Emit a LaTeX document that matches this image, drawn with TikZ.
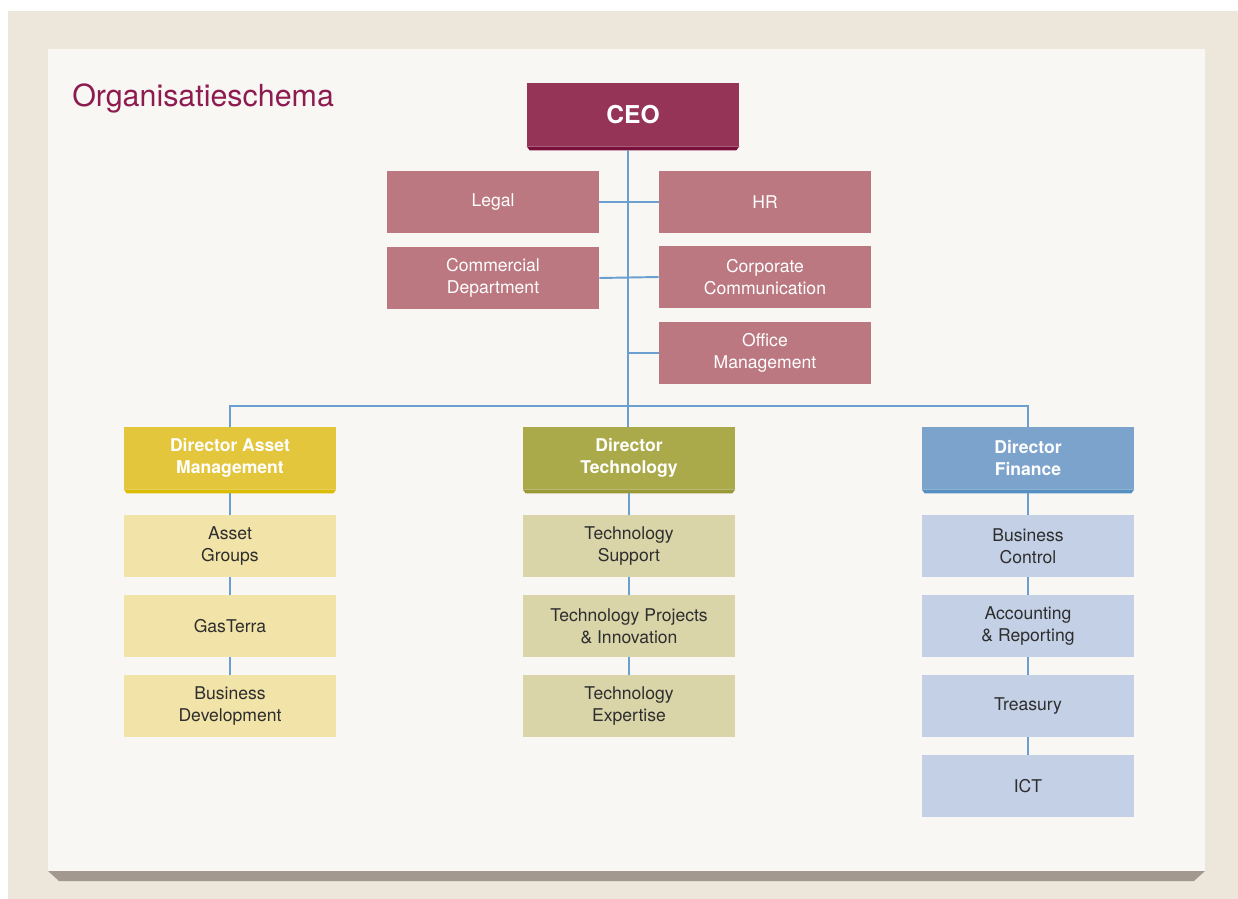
\documentclass[tikz,border=0pt]{standalone}
\usepackage{fontspec}
\setmainfont{TeX Gyre Heros}
\usetikzlibrary{calc}
\definecolor{frame}{HTML}{EDE6DB}
\definecolor{paper}{HTML}{F8F7F3}
\definecolor{papershadow}{HTML}{A39890}
\definecolor{titlered}{HTML}{8E1B4F}
\definecolor{ceofill}{HTML}{963457}
\definecolor{ceoedge}{HTML}{7A0F3B}
\definecolor{stafffill}{HTML}{BC7880}
\definecolor{linkblue}{HTML}{6A9FCF}
\definecolor{amfill}{HTML}{E3C63C}
\definecolor{amedge}{HTML}{DDBC05}
\definecolor{amsub}{HTML}{F2E3A8}
\definecolor{techfill}{HTML}{ABAA4B}
\definecolor{techedge}{HTML}{9A9935}
\definecolor{techsub}{HTML}{D9D5A9}
\definecolor{finfill}{HTML}{7BA3CB}
\definecolor{finedge}{HTML}{5690C2}
\definecolor{finsub}{HTML}{C3D0E6}
\definecolor{subtext}{HTML}{2E2E2E}
\begin{document}
\begin{tikzpicture}[
  x=0.02cm, y=-0.02cm,
  box/.style={rectangle, inner sep=0pt, minimum width=4.24cm, minimum height=1.24cm,
    align=center, font=\fontsize{10}{12.5}\selectfont},
  ceobox/.style={box, fill=ceofill, text=white, minimum height=1.26cm,
    font=\fontsize{14}{16}\selectfont\bfseries},
  staff/.style={box, fill=stafffill, text=white},
  dir/.style={box, text=white, font=\fontsize{10}{12.5}\selectfont\bfseries},
  sub/.style={box, text=subtext},
  link/.style={draw=linkblue, line width=1.1pt}
]
% frame and paper
\useasboundingbox (0,0) rectangle (1238,899);
\fill[white] (0,0) rectangle (1238,899);
\fill[frame] (8,11) rectangle (1238,899);
\fill[papershadow] (48,871) -- (1205,871) -- (1194,881) -- (59,881) -- cycle;
\fill[paper] (48,49) rectangle (1205,871);
\node[anchor=base west, text=titlered, font=\fontsize{17.3}{20}\selectfont, inner sep=0pt]
  (title) at (72,106) {Organisatieschema};

% top
\node[ceobox] (ceo) at (633,114.5) {CEO};
\node[staff] (legal) at (493,202) {Legal};
\node[staff] (hr) at (765,202) {HR};
\node[staff] (comm) at (493,278) {Commercial\\Department};
\node[staff] (corp) at (765,277) {Corporate\\Communication};
\node[staff] (office) at (765,353) {Office\\Management};

% directors
\node[dir, fill=amfill] (dam) at (230,458) {Director Asset\\Management};
\node[dir, fill=techfill] (dtech) at (629,458) {Director\\Technology};
\node[dir, fill=finfill] (dfin) at (1028,458) {Director\\Finance};

% departments
\node[sub, fill=amsub] (am1) at (230,546) {Asset\\Groups};
\node[sub, fill=amsub] (am2) at (230,626) {GasTerra};
\node[sub, fill=amsub] (am3) at (230,706) {Business\\Development};

\node[sub, fill=techsub] (tech1) at (629,546) {Technology\\Support};
\node[sub, fill=techsub] (tech2) at (629,626) {Technology Projects\\\& Innovation};
\node[sub, fill=techsub] (tech3) at (629,706) {Technology\\Expertise};

\node[sub, fill=finsub] (fin1) at (1028,546) {Business\\Control};
\node[sub, fill=finsub] (fin2) at (1028,626) {Accounting\\\& Reporting};
\node[sub, fill=finsub] (fin3) at (1028,706) {Treasury};
\node[sub, fill=finsub] (fin4) at (1028,786) {ICT};

% bottom edges of the coloured heads
\foreach \n/\c in {ceo/ceoedge, dam/amedge, dtech/techedge, dfin/finedge}
  \fill[\c] (\n.south west) -- (\n.south east) -- ++(-3,4) -- ($(\n.south west)+(3,4)$) -- cycle;

% connectors
\coordinate (bus) at (628,406);
\draw[link] ([yshift=-4*0.02cm]ceo.south -| bus) -- (bus);
\draw[link] (legal.east) -- (hr.west);
\draw[link] (comm.east) -- (corp.west);
\draw[link] (office.west) -- (office.west -| bus);
\draw[link] (dam.north) |- (bus) -| (dfin.north);
\draw[link] (bus) -- (bus |- dtech.north);

\draw[link] ([yshift=-4*0.02cm]dam.south) -- (am1.north) (am1.south) -- (am2.north) (am2.south) -- (am3.north);
\draw[link] ([yshift=-4*0.02cm]dtech.south) -- (tech1.north) (tech1.south) -- (tech2.north) (tech2.south) -- (tech3.north);
\draw[link] ([yshift=-4*0.02cm]dfin.south) -- (fin1.north) (fin1.south) -- (fin2.north) (fin2.south) -- (fin3.north) (fin3.south) -- (fin4.north);
\end{tikzpicture}
\end{document}
